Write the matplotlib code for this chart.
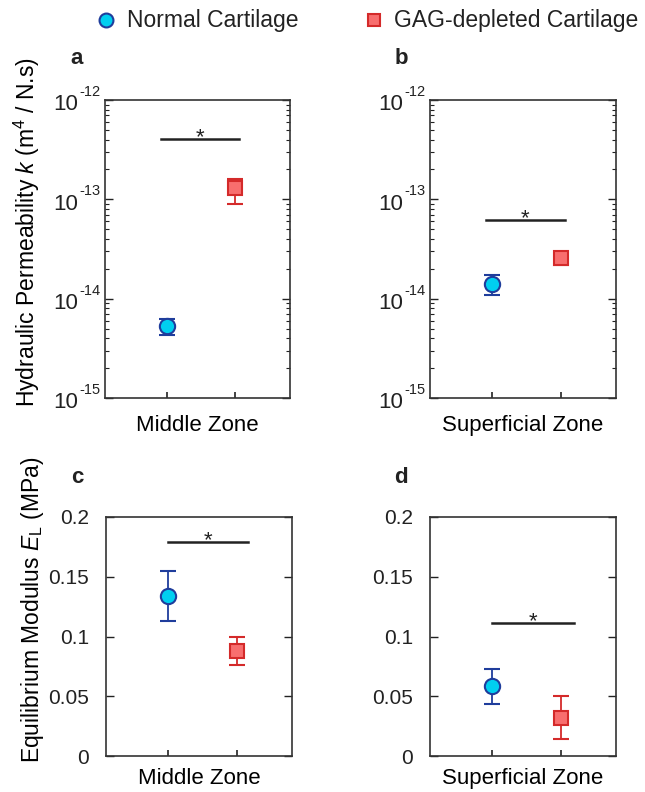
import numpy as np
import matplotlib
matplotlib.use("Agg")
import matplotlib.pyplot as plt
from matplotlib.ticker import LogLocator, NullFormatter, FixedLocator

plt.rcParams['font.family'] = ['Liberation Sans', 'DejaVu Sans']
plt.rcParams['mathtext.fontset'] = 'custom'
plt.rcParams['mathtext.rm'] = 'Liberation Sans'
plt.rcParams['mathtext.it'] = 'Liberation Sans:italic'
plt.rcParams['text.color'] = '#222222'
plt.rcParams['xtick.color'] = '#222222'
plt.rcParams['ytick.color'] = '#222222'

# data
groups = ['Normal Cartilage', 'GAG-depleted Cartilage']
zones = ['Middle Zone', 'Superficial Zone']

# permeability (m^4 / N.s): mean, lower, upper
perm_mean = {'Middle Zone': [5.3e-15, 1.3e-13], 'Superficial Zone': [1.4e-14, 2.55e-14]}
perm_lo = {'Middle Zone': [4.3e-15, 9.0e-14], 'Superficial Zone': [1.1e-14, 2.2e-14]}
perm_hi = {'Middle Zone': [6.3e-15, 1.6e-13], 'Superficial Zone': [1.75e-14, 2.95e-14]}
perm_sig = {'Middle Zone': 4.05e-13, 'Superficial Zone': 6.2e-14}
perm_ticks = [1e-15, 1e-14, 1e-13, 1e-12]
perm_exps = ['-15', '-14', '-13', '-12']

# equilibrium modulus (MPa)
mod_mean = {'Middle Zone': [0.134, 0.088], 'Superficial Zone': [0.0585, 0.032]}
mod_lo = {'Middle Zone': [0.113, 0.076], 'Superficial Zone': [0.0435, 0.014]}
mod_hi = {'Middle Zone': [0.155, 0.100], 'Superficial Zone': [0.073, 0.050]}
mod_sig = {'Middle Zone': 0.179, 'Superficial Zone': 0.111}
mod_ticks = [0, 0.05, 0.1, 0.15, 0.2]
mod_labels = ['0', '0.05', '0.1', '0.15', '0.2']

xpos = [1, 2]
markers = ['o', 's']
faces = ['#00CFF0', '#F86E6E']
edges = ['#1F3D9C', '#D42A2A']

fig = plt.figure(figsize=(6.45, 7.92), dpi=100)

W, H = 645.0, 792.0
def box(l, t, r, b):
    return [l / W, 1 - b / H, (r - l) / W, (b - t) / H]

axes = {
    'a': fig.add_axes(box(105, 100, 290, 398)),
    'b': fig.add_axes(box(430, 100, 616, 398)),
    'c': fig.add_axes(box(106, 517, 292, 756)),
    'd': fig.add_axes(box(430, 517, 616, 756)),
}

def draw(ax, mean, lo, hi, sig, sig_x):
    for i in range(2):
        err = [[mean[i] - lo[i]], [hi[i] - mean[i]]]
        ax.errorbar([xpos[i]], [mean[i]], yerr=err, fmt=markers[i],
                    ms=11 if i == 0 else 9.5, mfc=faces[i], mec=edges[i], mew=1.5,
                    ecolor=edges[i], elinewidth=1.3, capsize=6, capthick=1.3,
                    zorder=3)
    ax.plot(sig_x, [sig, sig], color='#222222', lw=1.8)
    ax.annotate('*', xy=(np.mean(sig_x), sig), xytext=(0, -3), textcoords='offset points',
                ha='center', va='baseline', fontsize=16)
    ax.set_xlim(0.09, 2.81)
    ax.set_xticks(xpos)
    ax.set_xticklabels([])
    ax.tick_params(axis='x', direction='in', length=4, width=1.2, top=False)
    ax.tick_params(axis='y', direction='in', length=6, width=1.0, right=True)
    for s in ax.spines.values():
        s.set_linewidth(1.2)
        s.set_color('#333333')

# permeability panels
for key, zone in [('a', 'Middle Zone'), ('b', 'Superficial Zone')]:
    ax = axes[key]
    ax.set_yscale('log')
    sx = [0.91, 2.06]
    draw(ax, perm_mean[zone], perm_lo[zone], perm_hi[zone], perm_sig[zone], sx)
    ax.set_ylim(1e-15, 1e-12)
    ax.yaxis.set_major_locator(FixedLocator(perm_ticks))
    ax.yaxis.set_major_formatter(NullFormatter())
    ax.yaxis.set_minor_locator(LogLocator(base=10, subs=np.arange(2, 10), numticks=10))
    ax.yaxis.set_minor_formatter(NullFormatter())
    ax.tick_params(axis='y', which='minor', direction='in', length=3, width=0.8, right=True)
    # "10" with a raised exponent, as in the original
    for t, e in zip(perm_ticks, perm_exps):
        ax.annotate('10', xy=(0, t), xycoords=('axes fraction', 'data'),
                    xytext=(-27, -5), textcoords='offset pixels',
                    ha='right', va='center', fontsize=16, annotation_clip=False)
        ax.annotate(e, xy=(0, t), xycoords=('axes fraction', 'data'),
                    xytext=(-26, 4), textcoords='offset pixels',
                    ha='left', va='baseline', fontsize=10.5, annotation_clip=False)
    ax.set_xlabel(zone, fontsize=16, labelpad=9)

# modulus panels
for key, zone in [('c', 'Middle Zone'), ('d', 'Superficial Zone')]:
    ax = axes[key]
    sx = [1.0, 2.17] if key == 'c' else [1.0, 2.2]
    draw(ax, mod_mean[zone], mod_lo[zone], mod_hi[zone], mod_sig[zone], sx)
    ax.set_ylim(0, 0.2)
    ax.set_yticks(mod_ticks)
    ax.set_yticklabels(mod_labels, fontsize=15)
    ax.tick_params(axis='y', pad=12)
    ax.set_xlabel(zone, fontsize=16, labelpad=5)

axes['a'].set_ylabel('Hydraulic Permeability $k$ (m$^4$ / N.s)', fontsize=16.5)
axes['a'].yaxis.set_label_coords(-0.34, 0.557)
axes['c'].set_ylabel('Equilibrium Modulus $E_\\mathrm{L}$ (MPa)', fontsize=16.5)
axes['c'].yaxis.set_label_coords(-0.323, 0.61)

# panel letters
for key, (x, y) in {'a': (77, 58), 'b': (401, 58), 'c': (77, 478), 'd': (401, 478)}.items():
    fig.text(x / W, 1 - y / H, key, fontsize=16, fontweight='bold', ha='center', va='center')

# legend
fig.lines.append(plt.Line2D([106 / W], [1 - 20 / H], marker='o', ms=10, mfc=faces[0],
                            mec=edges[0], mew=1.5, transform=fig.transFigure, ls='none'))
fig.text(127 / W, 1 - 20 / H, groups[0], fontsize=16.5, va='center', ha='left')
fig.lines.append(plt.Line2D([374 / W], [1 - 20 / H], marker='s', ms=8.5, mfc=faces[1],
                            mec=edges[1], mew=1.5, transform=fig.transFigure, ls='none'))
fig.text(394 / W, 1 - 20 / H, groups[1], fontsize=16.5, va='center', ha='left')

fig.savefig('out.png', dpi=100)
